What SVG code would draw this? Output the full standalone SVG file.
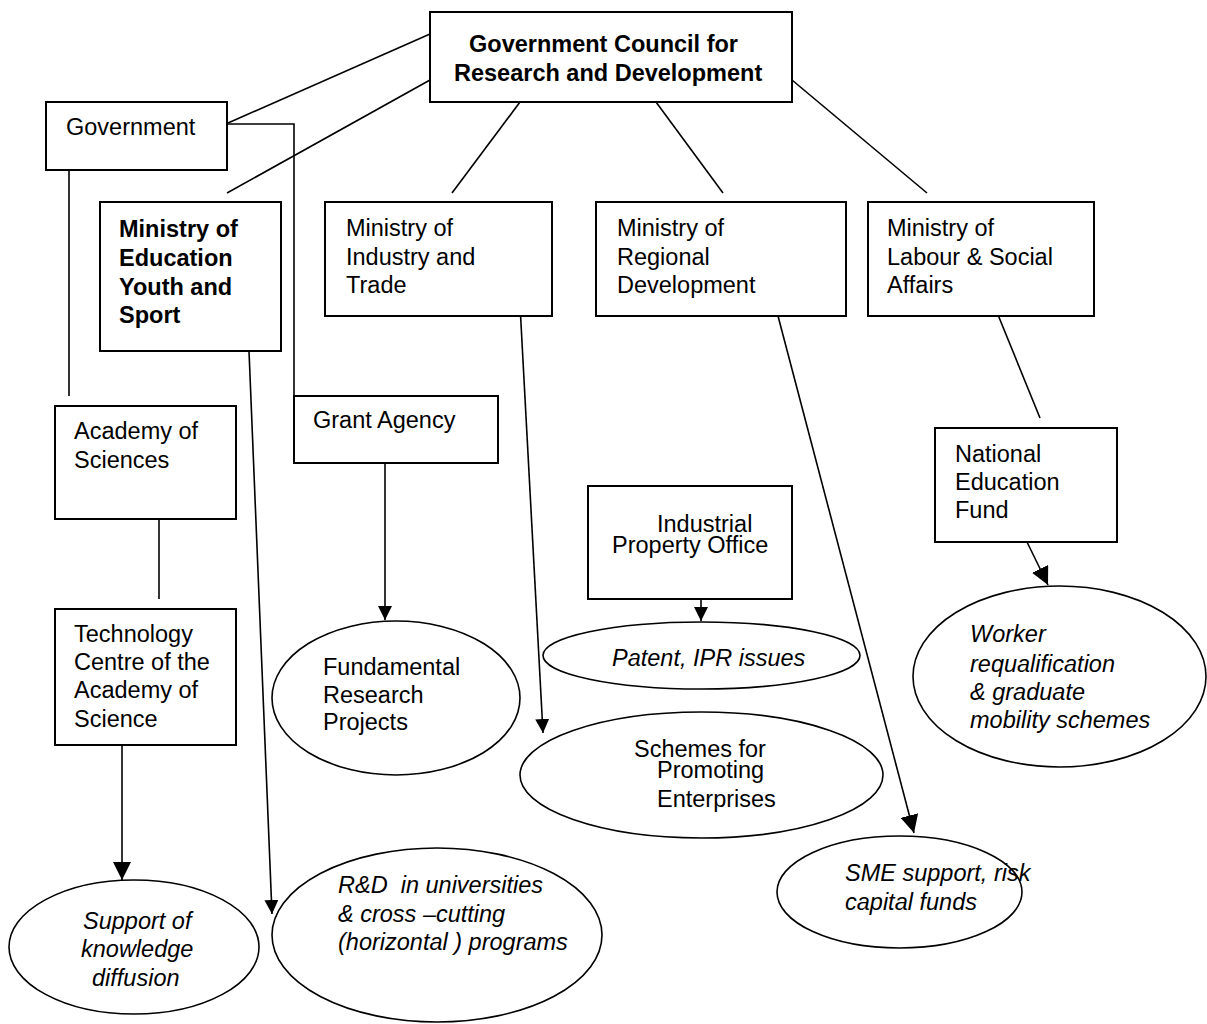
<svg xmlns="http://www.w3.org/2000/svg" width="1207" height="1024" viewBox="0 0 1207 1024">
  <style>
    .box { fill: #fff; stroke: #000; stroke-width: 2; }
    .oval { fill: #fff; stroke: #000; stroke-width: 1.6; }
    .ln { fill: none; stroke: #000; stroke-width: 1.6; }
    text { font-family: "Liberation Sans", Arial, sans-serif; font-size: 23.5px; fill: #000; }
    .b { font-weight: bold; }
    .i { font-style: italic; }
  </style>
  <defs>
    <marker id="ah" markerWidth="14" markerHeight="14" refX="14" refY="7" orient="auto" markerUnits="userSpaceOnUse">
      <path d="M0,0 L14,7 L0,14 z" fill="#000"/>
    </marker>
    <marker id="ahL" markerWidth="18" markerHeight="18" refX="18" refY="9" orient="auto" markerUnits="userSpaceOnUse">
      <path d="M0,0 L18,9 L0,18 z" fill="#000"/>
    </marker>
  </defs>
  <rect width="1207" height="1024" fill="#fff"/>

  <!-- connectors -->
  <g id="connectors">
    <line class="ln" x1="430" y1="34" x2="228" y2="123"/>
    <line class="ln" x1="430" y1="80" x2="227" y2="193"/>
    <line class="ln" x1="520" y1="102" x2="452" y2="193"/>
    <line class="ln" x1="656" y1="102" x2="723" y2="193"/>
    <line class="ln" x1="792" y1="80" x2="927" y2="193"/>
    <polyline class="ln" points="228,124 294,124 294,396"/>
    <line class="ln" x1="69" y1="170" x2="69" y2="396"/>
    <line class="ln" x1="159" y1="508" x2="159" y2="599"/>
    <line class="ln" x1="994" y1="305" x2="1040" y2="418"/>
    <line class="ln" x1="122" y1="745" x2="122" y2="880" marker-end="url(#ahL)"/>
    <line class="ln" x1="249" y1="351" x2="272" y2="914" marker-end="url(#ah)"/>
    <line class="ln" x1="385" y1="463" x2="385" y2="620" marker-end="url(#ah)"/>
    <line class="ln" x1="520" y1="305" x2="543" y2="733" marker-end="url(#ah)"/>
    <line class="ln" x1="701" y1="599" x2="701" y2="621" marker-end="url(#ah)"/>
    <line class="ln" x1="778" y1="316" x2="914" y2="833" marker-end="url(#ahL)"/>
    <line class="ln" x1="1027" y1="542" x2="1048" y2="585" marker-end="url(#ahL)"/>
  </g>

  <g id="council">
    <rect class="box" x="430" y="12" width="362" height="90"/>
    <text class="b" x="469" y="52">Government Council for</text>
    <text class="b" x="454" y="81">Research and Development</text>
  </g>

  <g id="government">
    <rect class="box" x="46" y="102" width="181" height="68"/>
    <text x="66" y="135">Government</text>
  </g>

  <g id="ministry-education">
    <rect class="box" x="100" y="202" width="181" height="149"/>
    <text class="b" x="119" y="237">Ministry of</text>
    <text class="b" x="119" y="266">Education</text>
    <text class="b" x="119" y="295">Youth and</text>
    <text class="b" x="119" y="323">Sport</text>
  </g>

  <g id="ministry-industry">
    <rect class="box" x="325" y="202" width="227" height="114"/>
    <text x="346" y="236">Ministry of</text>
    <text x="346" y="265">Industry and</text>
    <text x="346" y="293">Trade</text>
  </g>

  <g id="ministry-regional">
    <rect class="box" x="596" y="202" width="250" height="114"/>
    <text x="617" y="236">Ministry of</text>
    <text x="617" y="265">Regional</text>
    <text x="617" y="293">Development</text>
  </g>

  <g id="ministry-labour">
    <rect class="box" x="868" y="202" width="226" height="114"/>
    <text x="887" y="236">Ministry of</text>
    <text x="887" y="265">Labour &amp; Social</text>
    <text x="887" y="293">Affairs</text>
  </g>

  <g id="academy">
    <rect class="box" x="55" y="406" width="181" height="113"/>
    <text x="74" y="439">Academy of</text>
    <text x="74" y="468">Sciences</text>
  </g>

  <g id="grant-agency">
    <rect class="box" x="294" y="396" width="204" height="67"/>
    <text x="313" y="428">Grant Agency</text>
  </g>

  <g id="technology-centre">
    <rect class="box" x="55" y="609" width="181" height="136"/>
    <text x="74" y="642">Technology</text>
    <text x="74" y="670">Centre of the</text>
    <text x="74" y="698">Academy of</text>
    <text x="74" y="727">Science</text>
  </g>

  <g id="industrial-property-office">
    <rect class="box" x="588" y="486" width="204" height="113"/>
    <text x="657" y="532">Industrial</text>
    <text x="612" y="553">Property Office</text>
  </g>

  <g id="national-education-fund">
    <rect class="box" x="935" y="428" width="182" height="114"/>
    <text x="955" y="462">National</text>
    <text x="955" y="490">Education</text>
    <text x="955" y="518">Fund</text>
  </g>

  <g id="fundamental-research">
    <ellipse class="oval" cx="396" cy="698" rx="124" ry="77"/>
    <text x="323" y="675">Fundamental</text>
    <text x="323" y="703">Research</text>
    <text x="323" y="730">Projects</text>
  </g>

  <g id="patent-ipr">
    <ellipse class="oval" cx="701.5" cy="655.5" rx="158.5" ry="33.5"/>
    <text class="i" x="612" y="666">Patent, IPR issues</text>
  </g>

  <g id="schemes-enterprises">
    <ellipse class="oval" cx="701.5" cy="775" rx="181.5" ry="63"/>
    <text x="634" y="757">Schemes for</text>
    <text x="657" y="778">Promoting</text>
    <text x="657" y="807">Enterprises</text>
  </g>

  <g id="worker-requalification">
    <ellipse class="oval" cx="1059.5" cy="676.5" rx="146.5" ry="90.5"/>
    <text class="i" x="970" y="642">Worker</text>
    <text class="i" x="970" y="672">requalification</text>
    <text class="i" x="970" y="700">&amp; graduate</text>
    <text class="i" x="970" y="728">mobility schemes</text>
  </g>

  <g id="sme-support">
    <ellipse class="oval" cx="899.5" cy="892" rx="122.5" ry="56"/>
    <text class="i" x="845" y="881">SME support, risk</text>
    <text class="i" x="845" y="910">capital funds</text>
  </g>

  <g id="knowledge-diffusion">
    <ellipse class="oval" cx="134" cy="947" rx="125" ry="67"/>
    <text class="i" x="83" y="929">Support of</text>
    <text class="i" x="81" y="957">knowledge</text>
    <text class="i" x="92" y="986">diffusion</text>
  </g>

  <g id="rd-universities">
    <ellipse class="oval" cx="437" cy="935" rx="165" ry="87"/>
    <text class="i" x="338" y="893" xml:space="preserve">R&amp;D  in universities</text>
    <text class="i" x="338" y="922">&amp; cross –cutting</text>
    <text class="i" x="338" y="950">(horizontal ) programs</text>
  </g>
</svg>
